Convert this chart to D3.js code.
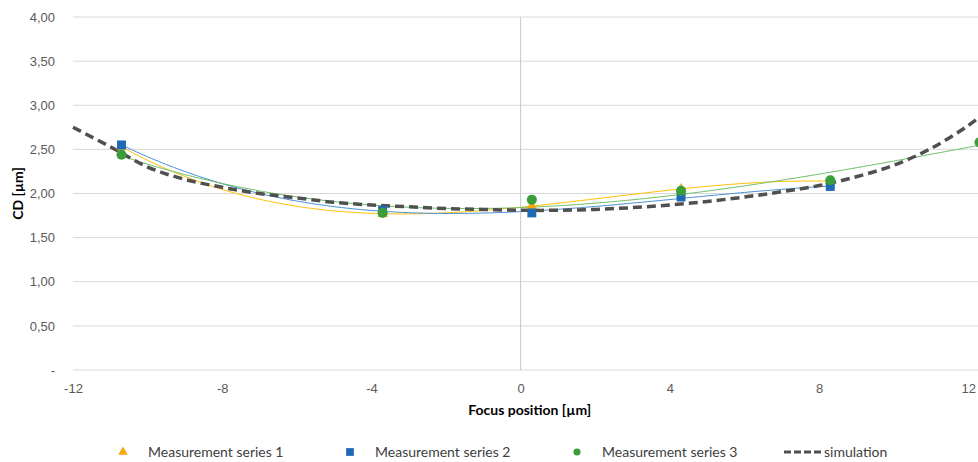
<!DOCTYPE html>
<html>
<head>
<meta charset="utf-8">
<script src="https://cdn.jsdelivr.net/npm/d3@7"></script>
<style>
  body { margin: 0; background: #fff; }
  svg { display: block; font-family: Lato, "Open Sans", sans-serif; }
</style>
</head>
<body>
<div class="chart"></div>
<script>
// measured points
const focusX = [-10.7, -3.7, 0.3, 4.3, 8.3, 12.3]
const series1 = [2.53, 1.77, 1.86, 2.05, 2.14]
const series2 = [2.55, 1.81, 1.78, 1.96, 2.08]
const series3 = [2.44, 1.78, 1.93, 2.03, 2.15, 2.58]

// simulation curve
const simX = [-12, -11, -10, -9, -8, -7, -6, -5, -4, -3, -2, -1, 0, 1, 2, 3, 4, 5, 6, 7, 8, 9, 10, 11, 12, 12.4]
const simY = [2.75, 2.53, 2.30, 2.16, 2.07, 2.00, 1.95, 1.90, 1.87, 1.85, 1.83, 1.82, 1.81, 1.81, 1.82, 1.84, 1.87, 1.91, 1.96, 2.02, 2.09, 2.19, 2.32, 2.51, 2.77, 2.90]

const xTicks = [-12, -8, -4, 0, 4, 8, 12]
const yTicks = [0, 0.5, 1, 1.5, 2, 2.5, 3, 3.5, 4]
const legendNames = ['Measurement series 1', 'Measurement series 2', 'Measurement series 3', 'simulation']

const svgWidth = 978
const svgHeight = 462

const svg = d3.select('.chart').append('svg')
    .attr('width', svgWidth)
    .attr('height', svgHeight)

const x = d3.scaleLinear().domain([-12, 12.26]).range([73, 978])
const y = d3.scaleLinear().domain([0, 4]).range([370, 17])

const fmt = v => v === 0 ? '-' : d3.format('.2f')(v).replace('.', ',')

// least squares polynomial trendline (like the spreadsheet's)
function polyfit(xs, ys, order) {
    const n = order + 1
    const A = Array.from({ length: n }, () => new Array(n + 1).fill(0))
    xs.forEach((xv, k) => {
        for (let i = 0; i < n; i++) {
            for (let j = 0; j < n; j++) A[i][j] += Math.pow(xv, i + j)
            A[i][n] += ys[k] * Math.pow(xv, i)
        }
    })
    for (let c = 0; c < n; c++) {
        let p = c
        for (let r = c + 1; r < n; r++) if (Math.abs(A[r][c]) > Math.abs(A[p][c])) p = r
        ;[A[c], A[p]] = [A[p], A[c]]
        for (let r = 0; r < n; r++) {
            if (r === c) continue
            const f = A[r][c] / A[c][c]
            for (let k = c; k <= n; k++) A[r][k] -= f * A[c][k]
        }
    }
    const coef = A.map((row, i) => row[n] / row[i])
    return xv => coef.reduce((s, c, i) => s + c * Math.pow(xv, i), 0)
}

// grid
svg.append('g').selectAll('line')
    .data(yTicks)
    .join('line')
    .attr('x1', x(-12)).attr('x2', svgWidth)
    .attr('y1', d => y(d)).attr('y2', d => y(d))
    .attr('stroke', '#d9d9d9').attr('stroke-width', 1)

svg.append('line')
    .attr('x1', x(0)).attr('x2', x(0))
    .attr('y1', y(4)).attr('y2', y(0))
    .attr('stroke', '#c8c8c8').attr('stroke-width', 1)

// axes
const yAxis = svg.append('g')
    .attr('transform', `translate(${x(-12) - 15},0)`)
    .call(d3.axisLeft(y).tickValues(yTicks).tickFormat(fmt).tickSize(0))
yAxis.select('.domain').remove()
yAxis.selectAll('text').attr('fill', '#595959').style('font-size', '13px')

const xAxis = svg.append('g')
    .attr('transform', `translate(0,${y(0) + 11})`)
    .call(d3.axisBottom(x).tickValues(xTicks).tickFormat(d => String(d)).tickSize(0))
xAxis.select('.domain').remove()
xAxis.selectAll('text').attr('fill', '#595959').style('font-size', '13px')

svg.append('text')
    .attr('x', x(0) + 9).attr('y', 415)
    .attr('text-anchor', 'middle')
    .style('font-size', '14px').style('font-weight', 'bold')
    .text('Focus position [µm]')

svg.append('text')
    .attr('transform', `translate(23,${y(2)}) rotate(-90)`)
    .attr('text-anchor', 'middle')
    .style('font-size', '14px').style('font-weight', 'bold')
    .text('CD [µm]')

// lines
const line = d3.line()
    .x(d => x(d[0]))
    .y(d => y(d[1]))
    .curve(d3.curveCatmullRom.alpha(0.5))

const seriesList = [
    { values: series1, line: '#ffc000', mark: '#f5a70f', shape: d3.symbolTriangle, size: 50 },
    { values: series2, line: '#4a8fd6', mark: '#1e6ab5', shape: d3.symbolSquare, size: 80 },
    { values: series3, line: '#6cc06c', mark: '#3b9e3b', shape: d3.symbolCircle, size: 80 }
]

seriesList.forEach(s => {
    const xs = focusX.slice(0, s.values.length)
    const fit = polyfit(xs, s.values, 3)
    const pts = d3.range(xs[0], xs[xs.length - 1] + 0.01, 0.1).map(v => [v, fit(v)])
    svg.append('path')
        .datum(pts)
        .attr('d', line)
        .attr('fill', 'none')
        .attr('stroke', s.line)
        .attr('stroke-width', 1)
})

svg.append('path')
    .datum(simX.map((v, i) => [v, simY[i]]))
    .attr('d', line)
    .attr('fill', 'none')
    .attr('stroke', '#505050')
    .attr('stroke-width', 3.5)
    .attr('stroke-dasharray', '9,5')

seriesList.forEach(s => {
    svg.append('g').selectAll('path')
        .data(s.values.map((v, i) => [focusX[i], v]))
        .join('path')
        .attr('transform', d => `translate(${x(d[0])},${y(d[1])})`)
        .attr('d', d3.symbol().type(s.shape).size(s.size))
        .attr('fill', s.mark)
})

// legend
const legendX = [123, 350, 577, 784]
const legend = svg.append('g')
legendNames.forEach((name, i) => {
    const g = legend.append('g').attr('transform', `translate(${legendX[i]},452)`)
    if (i < 3) {
        const s = seriesList[i]
        g.append('path')
            .attr('d', d3.symbol().type(s.shape).size(i === 1 ? 60 : 40))
            .attr('fill', s.mark)
        g.append('text')
            .attr('x', 25).attr('dy', '0.35em')
            .attr('fill', '#404040').style('font-size', '14px')
            .text(name)
    } else {
        g.append('line')
            .attr('x1', 0).attr('x2', 38)
            .attr('stroke', '#505050').attr('stroke-width', 3)
            .attr('stroke-dasharray', '7,3')
        g.append('text')
            .attr('x', 40).attr('dy', '0.35em')
            .attr('fill', '#404040').style('font-size', '14px')
            .text(name)
    }
})
</script>
</body>
</html>
